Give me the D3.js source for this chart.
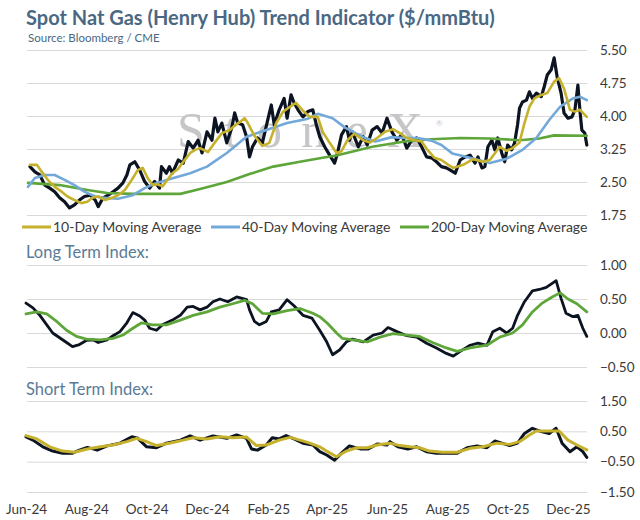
<!DOCTYPE html>
<html>
<head>
<meta charset="utf-8">
<script src="https://cdn.jsdelivr.net/npm/d3@7"></script>
<style>
  html, body { margin: 0; padding: 0; background: #fff; }
  svg { display: block; font-family: Lato, "Open Sans", sans-serif; }
</style>
</head>
<body>
<svg id="chart" width="640" height="520"></svg>
<script>
// ---------- DATA ----------
const spotPrice = [
 ["24-06-05",2.85],["24-06-10",2.73],["24-06-15",2.66],["24-06-20",2.43],["24-06-25",2.36],["24-06-30",2.28],
 ["24-07-05",2.14],["24-07-10",2.05],["24-07-15",1.91],["24-07-20",1.98],["24-07-25",2.09],["24-07-30",2.17],
 ["24-08-05",2.20],["24-08-10",2.09],["24-08-13",1.94],["24-08-18",2.14],["24-08-23",2.20],["24-08-28",2.28],
 ["24-09-02",2.36],["24-09-07",2.48],["24-09-11",2.66],["24-09-14",2.89],["24-09-19",2.96],["24-09-24",2.77],
 ["24-09-29",2.51],["24-10-04",2.36],["24-10-09",2.51],["24-10-14",2.36],["24-10-16",2.85],["24-10-21",2.70],
 ["24-10-24",2.85],["24-10-27",2.70],["24-11-02",3.00],["24-11-07",2.93],["24-11-12",3.42],["24-11-17",3.27],
 ["24-11-22",3.45],["24-11-26",3.16],["24-12-01",3.64],["24-12-06",3.45],["24-12-09",3.95],["24-12-12",3.64],
 ["24-12-16",3.84],["24-12-21",3.39],["24-12-26",3.73],["24-12-29",4.07],["25-01-01",3.84],["25-01-06",3.80],
 ["25-01-10",3.53],["25-01-13",3.07],["25-01-16",3.30],["25-01-21",3.50],["25-01-26",3.39],["25-01-31",3.87],
 ["25-02-04",4.25],["25-02-07",3.80],["25-02-12",4.14],["25-02-17",4.40],["25-02-20",3.95],["25-02-24",4.48],
 ["25-02-27",4.30],["25-03-03",4.14],["25-03-08",3.98],["25-03-13",4.10],["25-03-18",4.14],["25-03-22",3.76],
 ["25-03-25",3.53],["25-03-30",3.30],["25-04-04",3.11],["25-04-09",2.93],["25-04-12",3.16],["25-04-16",3.57],
 ["25-04-21",3.76],["25-04-24",3.45],["25-04-27",3.64],["25-05-03",3.30],["25-05-08",3.53],["25-05-12",3.34],
 ["25-05-17",3.68],["25-05-22",3.76],["25-05-27",3.61],["25-06-01",3.95],["25-06-06",3.64],["25-06-11",3.45],
 ["25-06-16",3.57],["25-06-21",3.27],["25-06-26",3.45],["25-07-01",3.50],["25-07-06",3.30],["25-07-11",3.07],
 ["25-07-16",3.05],["25-07-21",2.96],["25-07-26",2.85],["25-07-31",2.82],["25-08-04",2.77],["25-08-09",2.70],
 ["25-08-14",3.00],["25-08-19",3.07],["25-08-24",3.11],["25-08-29",2.93],["25-09-01",3.07],["25-09-05",2.82],
 ["25-09-08",2.85],["25-09-11",3.30],["25-09-15",3.45],["25-09-18",3.23],["25-09-21",3.50],["25-09-25",3.16],
 ["25-09-28",2.96],["25-10-01",3.34],["25-10-05",3.23],["25-10-08",3.39],["25-10-11",3.80],["25-10-13",4.18],
 ["25-10-16",4.32],["25-10-20",4.36],["25-10-23",4.55],["25-10-26",4.40],["25-10-30",4.52],["25-11-04",4.44],
 ["25-11-07",4.67],["25-11-10",4.93],["25-11-14",5.05],["25-11-17",5.32],["25-11-20",4.89],["25-11-24",4.52],
 ["25-11-27",4.07],["25-12-01",3.95],["25-12-05",3.98],["25-12-08",4.14],["25-12-11",4.70],["25-12-13",4.14],
 ["25-12-15",3.68],["25-12-18",3.61],["25-12-20",3.34]
];
const ma10 = [
 ["24-06-05",2.89],["24-06-12",2.89],["24-06-17",2.73],["24-06-23",2.55],["24-06-30",2.39],["24-07-07",2.28],
 ["24-07-13",2.17],["24-07-20",2.09],["24-07-27",2.02],["24-08-02",2.05],["24-08-07",2.14],["24-08-13",2.17],
 ["24-08-20",2.09],["24-08-27",2.14],["24-09-02",2.20],["24-09-09",2.32],["24-09-16",2.55],["24-09-22",2.77],
 ["24-09-27",2.82],["24-10-02",2.59],["24-10-07",2.43],["24-10-12",2.45],["24-10-17",2.40],["24-10-22",2.55],
 ["24-10-27",2.70],["24-11-02",2.80],["24-11-06",2.93],["24-11-14",3.16],["24-11-19",3.23],["24-11-24",3.27],
 ["24-12-02",3.18],["24-12-09",3.40],["24-12-16",3.61],["24-12-24",3.68],["24-12-30",3.80],["25-01-03",3.86],
 ["25-01-08",3.95],["25-01-11",3.85],["25-01-18",3.55],["25-01-26",3.32],["25-02-02",3.39],["25-02-09",3.84],
 ["25-02-16",4.10],["25-02-23",4.21],["25-03-01",4.30],["25-03-08",4.12],["25-03-15",3.98],["25-03-23",3.98],
 ["25-03-28",3.64],["25-04-04",3.39],["25-04-11",3.16],["25-04-16",3.20],["25-04-22",3.45],["25-04-29",3.60],
 ["25-05-08",3.45],["25-05-15",3.40],["25-05-22",3.50],["25-05-30",3.64],["25-06-07",3.70],["25-06-14",3.61],
 ["25-06-21",3.50],["25-06-29",3.45],["25-07-06",3.42],["25-07-12",3.23],["25-07-19",3.05],["25-07-26",3.00],
 ["25-08-02",2.89],["25-08-07",2.82],["25-08-17",2.89],["25-08-27",3.02],["25-09-06",2.96],["25-09-13",3.00],
 ["25-09-23",3.30],["25-09-30",3.21],["25-10-06",3.27],["25-10-13",3.40],["25-10-18",3.84],["25-10-23",4.21],
 ["25-10-28",4.40],["25-11-04",4.48],["25-11-10",4.52],["25-11-17",4.78],["25-11-22",4.86],["25-11-27",4.62],
 ["25-12-03",4.14],["25-12-08",4.10],["25-12-13",4.14],["25-12-20",3.98]
];
const ma40 = [
 ["24-06-03",2.39],["24-06-10",2.59],["24-06-20",2.66],["24-06-30",2.66],["24-07-10",2.55],["24-07-20",2.43],
 ["24-07-30",2.28],["24-08-10",2.17],["24-08-20",2.14],["24-09-02",2.12],["24-09-17",2.20],["24-09-29",2.36],
 ["24-10-09",2.46],["24-10-22",2.55],["24-11-14",2.70],["24-12-01",2.85],["24-12-21",3.16],["25-01-10",3.53],
 ["25-01-30",3.68],["25-02-20",3.84],["25-03-12",3.93],["25-03-23",4.05],["25-04-07",3.95],["25-04-20",3.73],
 ["25-05-07",3.53],["25-05-20",3.42],["25-06-06",3.52],["25-06-19",3.50],["25-07-02",3.50],["25-07-16",3.44],
 ["25-07-26",3.34],["25-08-06",3.15],["25-08-24",3.05],["25-09-13",2.93],["25-09-30",3.03],["25-10-16",3.23],
 ["25-10-30",3.50],["25-11-12",3.91],["25-11-23",4.21],["25-12-06",4.40],["25-12-13",4.44],["25-12-20",4.36]
];
const ma200 = [
 ["24-06-03",2.48],["24-07-05",2.43],["24-08-02",2.32],["24-08-22",2.25],["24-09-17",2.23],["24-11-04",2.23],
 ["24-11-24",2.34],["24-12-21",2.50],["25-01-13",2.68],["25-02-06",2.85],["25-03-05",2.96],["25-03-25",3.04],
 ["25-04-12",3.11],["25-05-17",3.30],["25-06-19",3.42],["25-07-16",3.47],["25-08-14",3.50],["25-09-13",3.49],
 ["25-10-13",3.45],["25-11-02",3.49],["25-11-17",3.56],["25-12-20",3.55]
];
const longTermIndex = [
 ["24-06-01",0.44],["24-06-08",0.37],["24-06-15",0.26],["24-06-22",0.12],["24-06-28",0.00],["24-07-05",-0.07],
 ["24-07-12",-0.14],["24-07-18",-0.20],["24-07-25",-0.17],["24-08-01",-0.11],["24-08-08",-0.10],["24-08-13",-0.14],
 ["24-08-22",-0.10],["24-08-28",-0.04],["24-09-04",0.02],["24-09-11",0.15],["24-09-17",0.30],["24-09-24",0.25],
 ["24-09-29",0.19],["24-10-04",0.07],["24-10-11",0.04],["24-10-17",0.12],["24-10-27",0.19],["24-11-04",0.26],
 ["24-11-11",0.38],["24-11-17",0.39],["24-11-24",0.34],["24-12-01",0.38],["24-12-07",0.46],["24-12-14",0.50],
 ["24-12-22",0.46],["24-12-31",0.53],["25-01-10",0.49],["25-01-13",0.34],["25-01-18",0.17],["25-01-23",0.12],
 ["25-01-30",0.17],["25-02-04",0.31],["25-02-12",0.34],["25-02-20",0.49],["25-02-27",0.40],["25-03-08",0.26],
 ["25-03-17",0.22],["25-03-25",0.04],["25-04-01",-0.13],["25-04-07",-0.32],["25-04-14",-0.25],["25-04-21",-0.13],
 ["25-04-27",-0.09],["25-05-08",-0.13],["25-05-18",-0.03],["25-05-27",0.00],["25-06-02",0.08],["25-06-11",0.02],
 ["25-06-21",-0.04],["25-07-01",-0.06],["25-07-11",-0.15],["25-07-21",-0.22],["25-07-31",-0.30],["25-08-07",-0.34],
 ["25-08-14",-0.27],["25-08-24",-0.18],["25-09-01",-0.15],["25-09-10",-0.18],["25-09-16",0.02],["25-09-23",0.07],
 ["25-09-30",0.00],["25-10-06",0.07],["25-10-11",0.26],["25-10-18",0.46],["25-10-26",0.62],["25-11-02",0.64],
 ["25-11-09",0.67],["25-11-15",0.73],["25-11-19",0.77],["25-11-24",0.51],["25-11-29",0.29],["25-12-06",0.24],
 ["25-12-11",0.26],["25-12-16",0.07],["25-12-20",-0.05]
];
const longTermSignal = [
 ["24-06-01",0.28],["24-06-12",0.31],["24-06-22",0.28],["24-07-02",0.17],["24-07-12",0.04],["24-07-22",-0.05],
 ["24-08-01",-0.09],["24-08-15",-0.10],["24-08-28",-0.08],["24-09-07",-0.03],["24-09-17",0.07],["24-09-26",0.15],
 ["24-10-07",0.12],["24-10-21",0.12],["24-11-04",0.19],["24-11-17",0.26],["24-12-01",0.31],["24-12-14",0.38],
 ["24-12-27",0.43],["25-01-08",0.48],["25-01-16",0.43],["25-01-26",0.29],["25-02-06",0.28],["25-02-20",0.33],
 ["25-03-05",0.36],["25-03-18",0.29],["25-03-25",0.24],["25-04-02",0.14],["25-04-11",0.00],["25-04-17",-0.08],
 ["25-04-27",-0.10],["25-05-12",-0.13],["25-05-25",-0.06],["25-06-07",-0.01],["25-06-21",-0.03],["25-07-04",-0.05],
 ["25-07-17",-0.14],["25-07-31",-0.22],["25-08-11",-0.27],["25-08-24",-0.22],["25-09-10",-0.18],["25-09-23",-0.06],
 ["25-10-06",0.00],["25-10-16",0.12],["25-10-26",0.31],["25-11-05",0.44],["25-11-15",0.53],["25-11-23",0.59],
 ["25-12-01",0.50],["25-12-10",0.43],["25-12-20",0.31]
];
const shortTermIndex = [
 ["24-06-01",0.32],["24-06-08",0.21],["24-06-18",-0.01],["24-06-28",-0.15],["24-07-08",-0.22],["24-07-18",-0.22],
 ["24-07-25",-0.12],["24-08-02",-0.03],["24-08-12",-0.12],["24-08-22",0.02],["24-09-04",0.11],["24-09-16",0.32],
 ["24-09-22",0.27],["24-10-01",-0.01],["24-10-11",-0.04],["24-10-21",0.11],["24-11-04",0.21],["24-11-14",0.35],
 ["24-11-24",0.21],["24-12-07",0.35],["24-12-21",0.27],["24-12-31",0.38],["25-01-10",0.27],["25-01-15",-0.08],
 ["25-01-21",-0.12],["25-01-30",0.05],["25-02-05",0.29],["25-02-12",0.25],["25-02-19",0.36],["25-02-27",0.25],
 ["25-03-08",0.11],["25-03-18",0.05],["25-03-25",-0.17],["25-04-01",-0.28],["25-04-09",-0.45],["25-04-16",-0.22],
 ["25-04-24",0.02],["25-05-05",-0.08],["25-05-13",-0.08],["25-05-22",0.08],["25-06-01",0.05],["25-06-04",0.16],
 ["25-06-12",-0.01],["25-06-22",-0.08],["25-07-01",-0.01],["25-07-11",-0.17],["25-07-21",-0.22],["25-07-31",-0.22],
 ["25-08-11",-0.22],["25-08-21",-0.04],["25-08-31",0.02],["25-09-10",-0.04],["25-09-18",0.18],["25-09-25",0.11],
 ["25-10-03",0.03],["25-10-11",0.11],["25-10-18",0.43],["25-10-26",0.60],["25-11-04",0.49],["25-11-12",0.43],
 ["25-11-19",0.60],["25-11-25",0.11],["25-12-03",-0.17],["25-12-10",-0.01],["25-12-16",-0.17],["25-12-20",-0.36]
];
const shortTermSignal = [
 ["24-06-01",0.36],["24-06-12",0.25],["24-06-25",-0.01],["24-07-08",-0.15],["24-07-20",-0.19],["24-08-02",-0.08],
 ["24-08-15",-0.01],["24-08-28",0.05],["24-09-11",0.16],["24-09-21",0.27],["24-10-01",0.16],["24-10-11",0.03],
 ["24-10-24",0.11],["24-11-07",0.21],["24-11-17",0.29],["24-12-01",0.25],["24-12-14",0.32],["24-12-27",0.29],
 ["25-01-10",0.31],["25-01-20",0.03],["25-01-30",0.05],["25-02-12",0.21],["25-02-23",0.30],["25-03-05",0.21],
 ["25-03-15",0.11],["25-03-25",-0.01],["25-04-02",-0.17],["25-04-11",-0.34],["25-04-21",-0.15],["25-05-01",-0.04],
 ["25-05-12",-0.04],["25-05-22",0.05],["25-06-04",0.11],["25-06-14",0.03],["25-06-24",-0.01],["25-07-04",-0.04],
 ["25-07-14",-0.15],["25-07-27",-0.19],["25-08-11",-0.19],["25-08-24",-0.06],["25-09-06",-0.01],["25-09-20",0.11],
 ["25-10-03",0.07],["25-10-13",0.16],["25-10-23",0.38],["25-10-30",0.51],["25-11-12",0.51],["25-11-22",0.51],
 ["25-12-01",0.21],["25-12-10",0.05],["25-12-20",-0.11]
];
const priceTicks = [1.75, 2.50, 3.25, 4.00, 4.75, 5.50];
const longTicks = [-0.50, 0.00, 0.50, 1.00];
const shortTicks = [-1.50, -0.50, 0.50, 1.50];
const monthTicks = ["24-06-01","24-08-01","24-10-01","24-12-01","25-02-01","25-04-01","25-06-01","25-08-01","25-10-01","25-12-01"];
const legendItems = ["10-Day Moving Average", "40-Day Moving Average", "200-Day Moving Average"];

// ---------- STYLE ----------
const C = { spot: "#0c1422", gold: "#c6b12c", blue: "#72a9d9", green: "#5ea63a",
            title: "#4a6883", grid: "#d9d9d9", text: "#3a3a3a", section: "#5b7b96" };

const parse = d3.timeParse("%y-%m-%d");
const svg = d3.select("#chart");
const plotL = 27, plotR = 587;

const x = d3.scaleTime().domain([parse("24-06-01"), parse("25-12-01")]).range([26, 568]);

const yTop = d3.scaleLinear().domain([1.75, 5.50]).range([215, 50]);
const yMid = d3.scaleLinear().domain([-0.50, 1.00]).range([367, 265]);
const yBot = d3.scaleLinear().domain([-1.50, 1.50]).range([492, 401]);

// Title
svg.append("text").attr("x", 26).attr("y", 25).attr("fill", C.title)
  .attr("font-size", 20).attr("font-weight", 700)
  .text("Spot Nat Gas (Henry Hub) Trend Indicator ($/mmBtu)");
svg.append("text").attr("x", 28).attr("y", 42).attr("fill", C.title)
  .attr("font-size", 11.5)
  .text("Source: Bloomberg / CME");

function panel(y, ticks) {
  const g = svg.append("g");
  g.append("g").attr("transform", `translate(${plotR},0)`)
    .call(d3.axisLeft(y).tickValues(ticks).tickSize(plotR - plotL).tickFormat(""))
    .call(s => s.select(".domain").remove())
    .call(s => s.selectAll("line").attr("stroke", C.grid).attr("stroke-width", 1));
  g.append("g").attr("transform", `translate(600,0)`)
    .call(d3.axisRight(y).tickValues(ticks).tickSize(0).tickPadding(0).tickFormat(d3.format(".2f")))
    .call(s => s.select(".domain").remove())
    .call(s => s.selectAll("text").attr("fill", C.text).attr("font-size", 13.5)
      .attr("font-family", "Lato, sans-serif"));
  return g;
}

function drawLine(data, y, color, width) {
  const line = d3.line().x(d => x(parse(d[0]))).y(d => y(d[1])).curve(d3.curveLinear);
  svg.append("path").datum(data).attr("d", line).attr("fill", "none")
    .attr("stroke", color).attr("stroke-width", width)
    .attr("stroke-linejoin", "round").attr("stroke-linecap", "round");
}

// ---- top panel ----
panel(yTop, priceTicks);
svg.append("text").attr("x", 177).attr("y", 147).attr("fill", "#c6c6c9")
  .attr("font-family", "'Liberation Serif', 'DejaVu Serif', serif").attr("font-size", 50)
  .attr("textLength", 246).attr("lengthAdjust", "spacing").text("StoneX");
svg.append("text").attr("x", 436).attr("y", 126).attr("fill", "#c6c6c9")
  .attr("font-size", 8).text("®");

drawLine(spotPrice, yTop, C.spot, 3.2);
drawLine(ma200, yTop, C.green, 2.6);
drawLine(ma40, yTop, C.blue, 2.6);
drawLine(ma10, yTop, C.gold, 2.6);

// legend
const legendX = [22, 211, 400];
const legColors = [C.gold, C.blue, C.green];
legendItems.forEach((t, i) => {
  svg.append("line").attr("x1", legendX[i]).attr("x2", legendX[i] + 29)
    .attr("y1", 227).attr("y2", 227).attr("stroke", legColors[i]).attr("stroke-width", 3);
  svg.append("text").attr("x", legendX[i] + 31).attr("y", 232).attr("fill", C.text)
    .attr("font-size", 14).text(t);
});

// ---- middle panel ----
svg.append("text").attr("x", 26).attr("y", 258).attr("fill", C.section)
  .attr("font-size", 16.5).text("Long Term Index:");
panel(yMid, longTicks);
drawLine(longTermIndex, yMid, C.spot, 2.8);
drawLine(longTermSignal, yMid, C.green, 2.8);

// ---- bottom panel ----
svg.append("text").attr("x", 26).attr("y", 395).attr("fill", C.section)
  .attr("font-size", 16.5).text("Short Term Index:");
panel(yBot, shortTicks);
drawLine(shortTermIndex, yBot, C.spot, 3);
drawLine(shortTermSignal, yBot, C.gold, 3);

// x axis
svg.append("g").attr("transform", "translate(0,501)")
  .call(d3.axisBottom(x).tickValues(monthTicks.map(parse)).tickSize(0).tickPadding(3)
    .tickFormat(d3.timeFormat("%b-%y")))
  .call(s => s.select(".domain").remove())
  .call(s => s.selectAll("text").attr("fill", C.text).attr("font-size", 13.5)
    .attr("font-family", "Lato, sans-serif"));
</script>
</body>
</html>
